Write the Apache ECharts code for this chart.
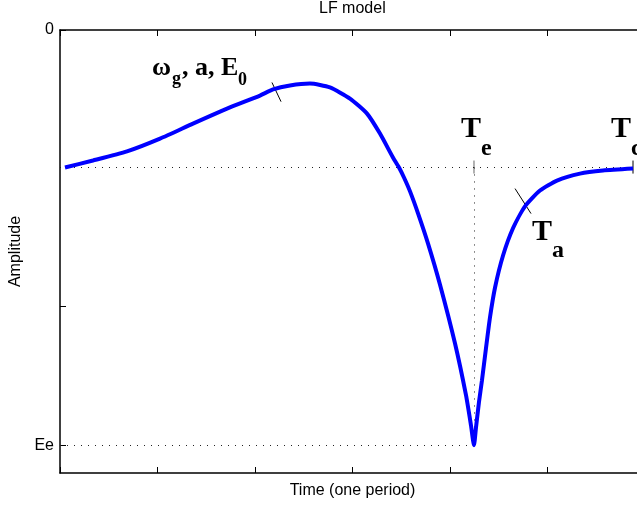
<!DOCTYPE html>
<html>
<head>
<meta charset="utf-8">
<script src="https://cdn.jsdelivr.net/npm/echarts@6/dist/echarts.min.js"></script>
<style>
  html, body { margin: 0; padding: 0; background: #fff; }
  #main { width: 637px; height: 506px; }
</style>
</head>
<body>
<div id="main"></div>
<script>
// LF glottal flow derivative
// time in tick units (one tick = 1), amplitude with Ee = -1
var timeVals = [0.051, 0.338, 0.687, 1.026, 1.364, 1.713, 2.051, 2.185, 2.359, 2.564,
  2.769, 2.974, 3.149, 3.282, 3.415, 3.477, 3.528, 3.590, 3.672, 3.774, 3.897, 4.051, 4.164, 4.215, 4.246,
  4.267, 4.297, 4.328, 4.369, 4.410, 4.462, 4.544, 4.646, 4.769, 4.923, 5.097, 5.333, 5.569, 5.877];
var ampVals = [0, 0.025, 0.058, 0.104, 0.158, 0.212, 0.259, 0.281, 0.295, 0.302,
  0.288, 0.248, 0.194, 0.122, 0.036, 0, -0.036, -0.086, -0.165, -0.273, -0.421, -0.633, -0.820, -0.928, -1,
  -0.935, -0.845, -0.766, -0.651, -0.540, -0.432, -0.317, -0.219, -0.140, -0.083, -0.047, -0.022, -0.011, -0.004];

var teX = 4.246, tcX = 5.877, eeY = -1;
var yTop = 0.495, yBottom = -1.1;
var yTickVals = [yTop, -0.5, eeY];
var yLabelVals = [yTop, eeY];
var yLabelText = ['0', 'Ee'];

// little marks crossing the curve
var peakMark = [[2.174, 0.306], [2.267, 0.237]];
var taMark = [[4.667, -0.076], [4.831, -0.166]];
var teMark = [[teX, 0.025], [teX, -0.022]];
var tcMark = [[tcX, 0.025], [tcX, -0.022]];

var curve = timeVals.map(function (t, i) { return [t, ampVals[i]]; });

var chart = echarts.init(document.getElementById('main'));
var sans = '"Liberation Sans", Arial, sans-serif';
var serif = '"Liberation Serif", "Times New Roman", serif';

function markSeries(pts, color) {
  return {
    type: 'line', data: pts, symbol: 'none', silent: true,
    lineStyle: { color: color, width: 1 }, z: 3, animation: false
  };
}

function txt(str, x, y, size) {
  return {
    type: 'text', x: x, y: y, silent: true, z: 10,
    style: {
      text: str, fill: '#000', fontFamily: serif, fontWeight: 'bold',
      fontSize: size, verticalAlign: 'middle'
    }
  };
}

var xAxisBase = {
  type: 'value', min: 0, max: 6, interval: 1,
  axisLine: { onZero: false, lineStyle: { color: '#000', width: 1.5 } },
  axisTick: { inside: true, length: 6, lineStyle: { color: '#000' } },
  axisLabel: { show: false },
  splitLine: { show: false }
};

var option = {
  backgroundColor: '#fff',
  animation: false,
  title: {
    text: 'LF model', left: 319, top: 1, padding: 0,
    textStyle: { fontFamily: sans, fontSize: 16, fontWeight: 'normal', color: '#000' }
  },
  // the plot box runs a little past the right edge of the picture
  grid: { left: 60, right: -8, top: 30, bottom: 33, outerBoundsMode: 'none', containLabel: false },
  xAxis: [
    Object.assign({}, xAxisBase, {
      name: 'Time (one period)', nameLocation: 'middle', nameGap: 10,
      nameTextStyle: { fontFamily: sans, fontSize: 16, color: '#000' }
    }),
    Object.assign({}, xAxisBase, { position: 'top' })
  ],
  yAxis: {
    type: 'value', min: yBottom, max: yTop,
    name: 'Amplitude', nameLocation: 'middle', nameGap: 34, nameRotate: 90,
    nameTextStyle: { fontFamily: sans, fontSize: 16, color: '#000' },
    axisLine: { show: true, onZero: false, lineStyle: { color: '#000', width: 1.5 } },
    axisTick: { show: true, inside: true, length: 6, customValues: yTickVals, lineStyle: { color: '#000' } },
    axisLabel: {
      show: true, margin: 6, customValues: yLabelVals, showMaxLabel: true, showMinLabel: true,
      fontFamily: sans, fontSize: 16, color: '#000',
      formatter: function (v) {
        var i = yLabelVals.indexOf(v);
        return i >= 0 ? yLabelText[i] : '';
      }
    },
    splitLine: { show: false }
  },
  series: [{
    type: 'line', data: curve, symbol: 'none', z: 5, smooth: 0.2,
    lineStyle: { color: '#0000ff', width: 4 },
    markLine: {
      silent: true, symbol: 'none', animation: false,
      label: { show: false },
      lineStyle: { color: '#222', width: 1, type: [1, 6] },
      data: [
        [{ coord: [0, 0] }, { coord: [tcX, 0] }],
        [{ coord: [teX, 0] }, { coord: [teX, eeY] }],
        [{ coord: [0, eeY] }, { coord: [teX, eeY] }]
      ]
    }
  },
    markSeries(peakMark, '#000'),
    markSeries(taMark, '#000'),
    markSeries(teMark, '#666'),
    markSeries(tcMark, '#000')
  ],
  graphic: [
    txt('\u03c9', 152, 68, 26),
    txt('g', 172, 79, 18),
    txt(', a, E', 182, 68, 26),
    txt('0', 238, 80, 18),
    txt('T', 461, 129, 30),
    txt('e', 481, 149, 24),
    txt('T', 532, 232, 30),
    txt('a', 552, 251, 24),
    txt('T', 611, 129, 30),
    txt('c', 631, 149, 24)
  ]
};

chart.setOption(option);
</script>
</body>
</html>
